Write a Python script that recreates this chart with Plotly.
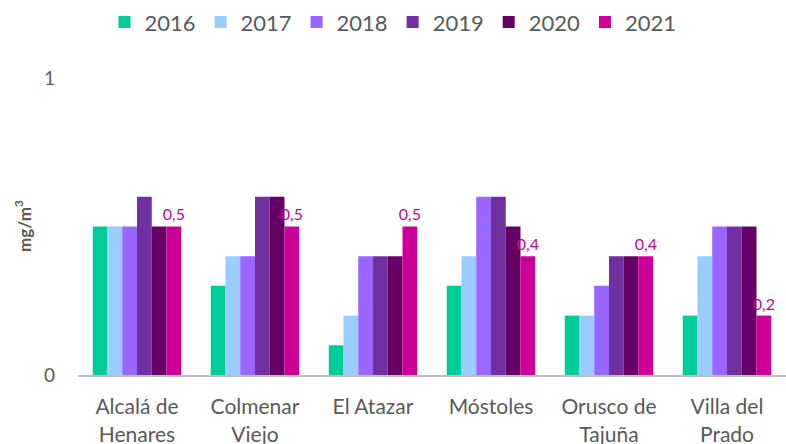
import plotly.graph_objects as go

stations = ["Alcalá de<br>Henares", "Colmenar<br>Viejo", "El Atazar", "Móstoles",
            "Orusco de<br>Tajuña", "Villa del<br>Prado"]
years = ["2016", "2017", "2018", "2019", "2020", "2021"]
v2016 = [0.5, 0.3, 0.1, 0.3, 0.2, 0.2]
v2017 = [0.5, 0.4, 0.2, 0.4, 0.2, 0.4]
v2018 = [0.5, 0.4, 0.4, 0.6, 0.3, 0.5]
v2019 = [0.6, 0.6, 0.4, 0.6, 0.4, 0.5]
v2020 = [0.5, 0.6, 0.4, 0.5, 0.4, 0.5]
v2021 = [0.5, 0.5, 0.5, 0.4, 0.4, 0.2]
series = [v2016, v2017, v2018, v2019, v2020, v2021]
colors = ["#00CC99", "#99CCFF", "#9966FF", "#7030A0", "#660066", "#CC0099"]

FONT = "Lato"
fig = go.Figure()
for y, vals, c in zip(years, series, colors):
    kw = {}
    if y == "2021":
        kw = dict(text=[f"{v:.1f}".replace(".", ",") for v in vals],
                  textposition="outside", cliponaxis=False, constraintext="none",
                  textfont=dict(color="#CC0099", size=16, family=FONT))
    fig.add_trace(go.Bar(name=y, x=stations, y=vals, marker=dict(color=c, line=dict(width=0)), **kw))

fig.update_layout(
    width=786, height=444,
    barmode="group", bargap=0.25, bargroupgap=0,
    plot_bgcolor="white", paper_bgcolor="white",
    margin=dict(l=78, r=0, t=77, b=69, autoexpand=False),
    font=dict(family=FONT, color="#595959"),
    legend=dict(orientation="h", x=0.5, xanchor="center", xref="container",
                y=0.95, yanchor="middle", yref="container",
                font=dict(size=22, color="#595959"), itemwidth=30, traceorder="normal"),
    showlegend=True,
)
fig.update_xaxes(showline=True, linecolor="#BFBFBF", linewidth=2, ticks="", automargin=False,
                 tickfont=dict(size=21, color="#595959"), ticklabelstandoff=12)
fig.update_yaxes(range=[0, 1.003], tickvals=[0, 1], ticktext=["0", "1"], showgrid=True,
                 gridcolor="#D9D9D9", gridwidth=1, zeroline=False, showline=False, automargin=False,
                 tickfont=dict(size=19, color="#595959"), ticklabelstandoff=22,
                 title=dict(text="<b>mg/m<sup>3</sup></b>", font=dict(size=17, color="#595959"), standoff=8))
fig.write_html("out.html", config={"displayModeBar": False},
               post_script="document.body.style.margin='0px';")
